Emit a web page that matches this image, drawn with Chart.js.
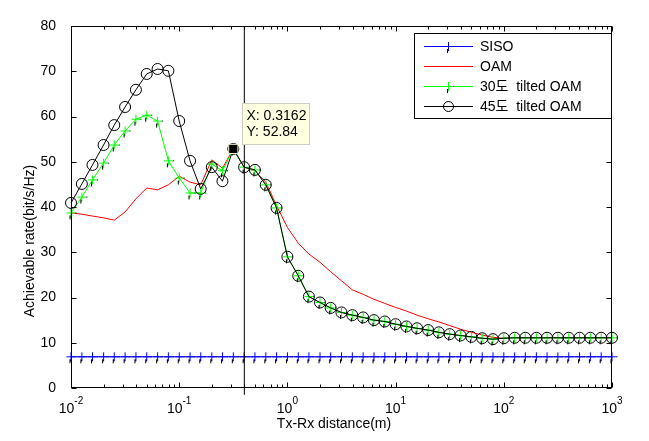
<!DOCTYPE html>
<html>
<head>
<meta charset="utf-8">
<script src="https://cdn.jsdelivr.net/npm/chart.js@4/dist/chart.umd.min.js"></script>
<style>
  body { margin: 0; background: #fff; }
  #wrap { width: 649px; height: 441px; }
</style>
</head>
<body>
<div id="wrap"><canvas id="rate-chart" width="649" height="441"></canvas></div>
<script>
/* Data */
const distances = [
  0.01, 0.0126, 0.0158, 0.02, 0.0251, 0.0316, 0.0398, 0.0501, 0.0631, 0.0794,
  0.1, 0.126, 0.158, 0.2, 0.251, 0.3162, 0.398, 0.501, 0.631, 0.794,
  1, 1.26, 1.58, 2, 2.51, 3.16, 3.98, 5.01, 6.31, 7.94,
  10, 12.6, 15.8, 20, 25.1, 31.6, 39.8, 50.1, 63.1, 79.4,
  100, 126, 158, 200, 251, 316, 398, 501, 631, 794, 1000
];
const sisoRate = [
  6.9, 6.9, 6.9, 6.9, 6.9, 6.9, 6.9, 6.9, 6.9, 6.9,
  6.9, 6.9, 6.9, 6.9, 6.9, 6.9, 6.9, 6.9, 6.9, 6.9,
  6.9, 6.9, 6.9, 6.9, 6.9, 6.9, 6.9, 6.9, 6.9, 6.9,
  6.9, 6.9, 6.9, 6.9, 6.9, 6.9, 6.9, 6.9, 6.9, 6.9,
  6.9, 6.9, 6.9, 6.9, 6.9, 6.9, 6.9, 6.9, 6.9, 6.9, 6.9
];
const oamRate = [
  38.7, 38.4, 38.0, 37.6, 37.1, 38.9, 41.8, 44.2, 43.8, 44.9,
  46.8, 45.5, 44.9, 50.4, 48.6, 52.84, 48.8, 48.0, 45.5, 40.3,
  35.5, 32.0, 29.6, 27.8, 25.7, 23.7, 21.7, 20.7, 19.6, 18.7,
  17.8, 17.0, 16.1, 15.3, 14.6, 13.8, 13.0, 12.3, 11.7, 11.2,
  11.0, 11.1, 11.1, 11.1, 11.1, 11.1, 11.1, 11.1, 11.1, 11.1, 11.1
];
const tilted30Rate = [
  38.7, 42.2, 46.0, 49.7, 53.7, 56.8, 59.4, 60.3, 59.0, 50.2,
  46.4, 43.1, 43.1, 49.5, 48.0, 52.84, 48.8, 48.2, 44.9, 39.8,
  29.0, 24.8, 20.2, 18.9, 17.7, 16.7, 16.1, 15.6, 15.0, 14.7,
  14.1, 13.6, 13.2, 12.8, 12.3, 11.9, 11.6, 11.3, 11.0, 10.8,
  11.0, 11.1, 11.1, 11.1, 11.1, 11.1, 11.1, 11.1, 11.1, 11.1, 11.1
];
const tilted45Rate = [
  40.9, 45.1, 49.3, 53.7, 58.1, 62.1, 65.9, 69.4, 70.5, 70.1,
  59.0, 50.2, 44.0, 48.8, 45.7, 52.84, 48.8, 48.2, 44.9, 39.8,
  29.0, 24.8, 20.2, 18.9, 17.7, 16.7, 16.1, 15.6, 15.0, 14.7,
  14.1, 13.6, 13.2, 12.8, 12.3, 11.9, 11.6, 11.3, 11.0, 10.8,
  11.0, 11.1, 11.1, 11.1, 11.1, 11.1, 11.1, 11.1, 11.1, 11.1, 11.1
];
const seriesNames = ['SISO', 'OAM', '30도  tilted OAM', '45도  tilted OAM'];
const yTicks = [0, 10, 20, 30, 40, 50, 60, 70, 80];
const xTickValues = [0.01, 0.1, 1, 10, 100, 1000];
const xTickExps = ['-2', '-1', '0', '1', '2', '3'];
const cursorX = 0.4;
const cursorY = [-1.5, 80];
const tipPoint = { x: 0.3162, y: 52.84 };

const FONT = '"Liberation Sans", Arial, "Noto Sans CJK KR", sans-serif';

function toPoints(ys) {
  return distances.map((d, i) => ({ x: d, y: ys[i] }));
}

// '+' marker with the little black tail matlab leaves behind
function plusMarker(color) {
  const c = document.createElement('canvas');
  c.width = 15; c.height = 15;
  const g = c.getContext('2d');
  g.lineWidth = 1;
  g.strokeStyle = '#000';
  g.beginPath();
  g.moveTo(11, 7.5); g.lineTo(13, 7.5);
  g.moveTo(6.5, 10); g.lineTo(6.5, 14);
  g.stroke();
  g.strokeStyle = color;
  g.beginPath();
  g.moveTo(3, 7.5); g.lineTo(12, 7.5);
  g.moveTo(7.5, 3); g.lineTo(7.5, 12);
  g.stroke();
  return c;
}
const bluePlus = plusMarker('#0000ff');
const greenPlus = plusMarker('#00ff00');

const legendItems = [
  { color: '#0000ff', marker: bluePlus },
  { color: '#ff0000', marker: null },
  { color: '#00ff00', marker: greenPlus },
  { color: '#000000', marker: 'circle' }
];

const framePlugin = {
  id: 'frame',
  afterDatasetsDraw(chart) {
    const { ctx, chartArea: a, scales: { x, y } } = chart;
    const L = Math.round(a.left) + 0.5, R = Math.round(a.right) - 0.5;
    const T = Math.round(a.top) + 0.5, B = Math.round(a.bottom) - 0.5;
    ctx.save();
    ctx.strokeStyle = '#000';
    ctx.lineWidth = 1;
    ctx.strokeRect(L, T, R - L, B - T);
    ctx.beginPath();
    yTicks.forEach(v => {
      const py = Math.round(y.getPixelForValue(v)) + 0.5;
      ctx.moveTo(L, py); ctx.lineTo(L + 5, py);
      ctx.moveTo(R, py); ctx.lineTo(R - 5, py);
    });
    xTickValues.forEach((v, i) => {
      const px = Math.round(x.getPixelForValue(v)) + 0.5;
      ctx.moveTo(px, B); ctx.lineTo(px, B - 5);
      ctx.moveTo(px, T); ctx.lineTo(px, T + 5);
      if (i < xTickValues.length - 1) {
        for (let m = 2; m <= 9; m++) {
          const mx = Math.round(x.getPixelForValue(v * m)) + 0.5;
          ctx.moveTo(mx, B); ctx.lineTo(mx, B - 3);
          ctx.moveTo(mx, T); ctx.lineTo(mx, T + 3);
        }
      }
    });
    ctx.stroke();

    // x tick labels 10^n
    ctx.fillStyle = '#000';
    ctx.textBaseline = 'alphabetic';
    ctx.textAlign = 'left';
    xTickValues.forEach((v, i) => {
      const px = x.getPixelForValue(v);
      ctx.font = '14px ' + FONT;
      const w1 = ctx.measureText('10').width;
      ctx.font = '10px ' + FONT;
      const w2 = ctx.measureText(xTickExps[i]).width;
      const start = px - (w1 + w2) / 2;
      ctx.font = '14px ' + FONT;
      ctx.fillText('10', start, 413);
      ctx.font = '10px ' + FONT;
      ctx.fillText(xTickExps[i], start + w1, 404);
    });

    // axis titles
    ctx.font = '14px ' + FONT;
    ctx.textAlign = 'center';
    ctx.fillText('Tx-Rx distance(m)', 334, 428);
    ctx.save();
    ctx.translate(30, 241);
    ctx.rotate(-Math.PI / 2);
    ctx.textBaseline = 'middle';
    ctx.fillText('Achievable rate(bit/s/Hz)', 0, 0);
    ctx.restore();

    // legend
    const bx = 414.5, by = 33.5, bw = 197, bh = 85;
    ctx.fillStyle = '#fff';
    ctx.fillRect(bx, by, bw, bh);
    ctx.strokeRect(bx, by, bw, bh);
    ctx.textAlign = 'left';
    ctx.textBaseline = 'middle';
    legendItems.forEach((it, i) => {
      const ry = Math.round(46 + i * 20) + 0.5;
      ctx.strokeStyle = it.color;
      ctx.beginPath();
      ctx.moveTo(424, ry); ctx.lineTo(473, ry);
      ctx.stroke();
      if (it.marker === 'circle') {
        ctx.strokeStyle = '#000';
        ctx.beginPath();
        ctx.arc(448.5, ry, 5, 0, Math.PI * 2);
        ctx.stroke();
      } else if (it.marker) {
        ctx.drawImage(it.marker, 448.5 - 7.5, ry - 7.5);
      }
      ctx.fillStyle = '#000';
      ctx.fillText(seriesNames[i], 480, ry + 1);
    });

    // data tip
    const tx = x.getPixelForValue(tipPoint.x), ty = y.getPixelForValue(tipPoint.y);
    const lx = Math.round(tx) + 9.5, ly = Math.round(ty) - 45.5;
    ctx.fillStyle = '#ffffe1';
    ctx.strokeStyle = '#cfcfc0';
    ctx.fillRect(lx, ly, 67, 41);
    ctx.strokeRect(lx, ly, 67, 41);
    ctx.fillStyle = '#000';
    ctx.font = '14px ' + FONT;
    ctx.fillText('X: ' + tipPoint.x, lx + 4, ly + 13);
    ctx.fillText('Y: ' + tipPoint.y, lx + 4, ly + 29);
    ctx.restore();
  }
};

const ctx = document.getElementById('rate-chart').getContext('2d');
const rateChart = new Chart(ctx, {
  type: 'line',
  data: {
    datasets: [
      {
        label: seriesNames[0], data: toPoints(sisoRate), order: 6, clip: false,
        borderColor: '#0000ff', borderWidth: 1, pointStyle: bluePlus
      },
      {
        label: seriesNames[1], data: toPoints(oamRate), order: 5, clip: false,
        borderColor: '#ff0000', borderWidth: 1, pointRadius: 0
      },
      {
        label: seriesNames[2], data: toPoints(tilted30Rate), order: 4, clip: false,
        borderColor: '#00ff00', borderWidth: 1, pointStyle: greenPlus
      },
      {
        label: seriesNames[3], data: toPoints(tilted45Rate), order: 3, clip: false,
        borderColor: '#000000', borderWidth: 1, pointStyle: 'circle',
        pointRadius: 5.5, pointBorderColor: '#000', pointBorderWidth: 1,
        pointBackgroundColor: 'rgba(0,0,0,0)'
      },
      {
        label: 'cursor', data: cursorY.map(v => ({ x: cursorX, y: v })), order: 2,
        borderColor: '#000', borderWidth: 1, pointRadius: 0, clip: false
      },
      {
        label: 'tip', data: [tipPoint], order: 1,
        pointStyle: 'rect', pointRadius: 6.5, pointBackgroundColor: '#000',
        pointBorderColor: '#f3efc8', pointBorderWidth: 1, showLine: false
      }
    ]
  },
  options: {
    responsive: false,
    animation: false,
    devicePixelRatio: 1,
    layout: { padding: { top: 26, right: 37, left: 0, bottom: 0 } },
    plugins: { legend: { display: false }, tooltip: { enabled: false } },
    scales: {
      x: {
        type: 'logarithmic', min: 0.01, max: 1000,
        ticks: { display: false },
        grid: { display: false },
        border: { display: false },
        afterFit: s => { s.height = 53; }
      },
      y: {
        min: 0, max: 80,
        afterBuildTicks: s => { s.ticks = yTicks.map(v => ({ value: v })); },
        ticks: { color: '#000', padding: 7, font: { family: FONT, size: 14 } },
        grid: { display: false },
        border: { display: false },
        afterFit: s => { s.width = 71; }
      }
    }
  },
  plugins: [framePlugin]
});
</script>
</body>
</html>
